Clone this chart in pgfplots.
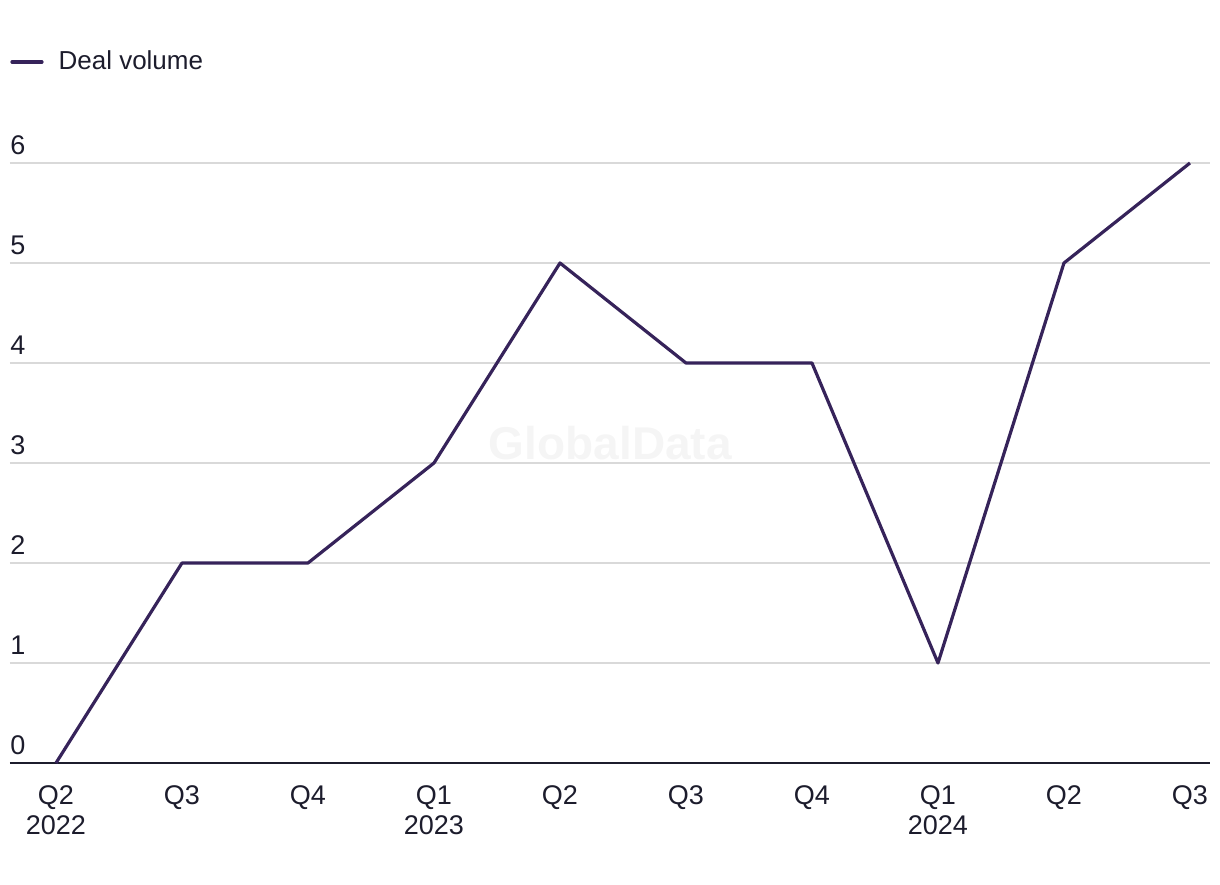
\documentclass[border=0pt]{standalone}
\usepackage{fontspec}
\setmainfont{Liberation Sans}
\usepackage{pgfplots}
\pgfplotsset{compat=1.18}
\definecolor{lineC}{HTML}{36235A}
\definecolor{txtC}{HTML}{1C1C2C}
\definecolor{gridC}{HTML}{D9D9D9}
\begin{document}
\begin{tikzpicture}[x=1pt,y=1pt]
\path[use as bounding box] (0,0) rectangle (610,442);
\begin{axis}[
  at={(5pt,60.5pt)}, anchor=south west,
  scale only axis, width=600pt, height=300pt,
  xmin=-0.365, xmax=9.159, ymin=0, ymax=6,
  axis line style={draw=none},
  /pgf/number format/assume math mode=true,
  font=\fontsize{13.5}{15}\selectfont\color{txtC},
  xtick={0,...,9},
  xticklabels={{Q2\\2022},Q3,Q4,{Q1\\2023},Q2,Q3,Q4,{Q1\\2024},Q2,Q3},
  xticklabel style={align=center, anchor=north, inner sep=0pt, yshift=-11pt, text=txtC},
  ytick={0,...,6},
  yticklabel style={anchor=south west, inner sep=0pt, xshift=0pt, yshift=4pt, text=txtC},
  yticklabel pos=left,
  tick style={draw=none},
  major tick length=0pt,
  ymajorgrids, grid style={gridC, line width=0.75pt},
  clip=false,
  legend style={at={(axis description cs:0,1)}, anchor=west, yshift=50.5pt, draw=none, fill=none, inner sep=0pt, font=\fontsize{13}{15}\selectfont\color{txtC}, cells={anchor=west}},
  legend image code/.code={\draw[#1, line width=1.6pt, line cap=round] (0.5pt,0pt) -- (15.5pt,0pt); \path (21pt,0pt);},
  legend cell align=left,
]
\node[text=black!4, font=\bfseries\fontsize{23}{25}\selectfont] at (axis cs:4.4,3.2) {GlobalData};
\draw[txtC, line width=1pt] (axis cs:-0.365,0) -- (axis cs:9.159,0);
\addplot[lineC, line width=1.6pt, line join=round] coordinates {
(0,0) (1,2) (2,2) (3,3) (4,5) (5,4) (6,4) (7,1) (8,5) (9,6)
};
\addlegendentry{Deal volume}
\end{axis}
\end{tikzpicture}
\end{document}
